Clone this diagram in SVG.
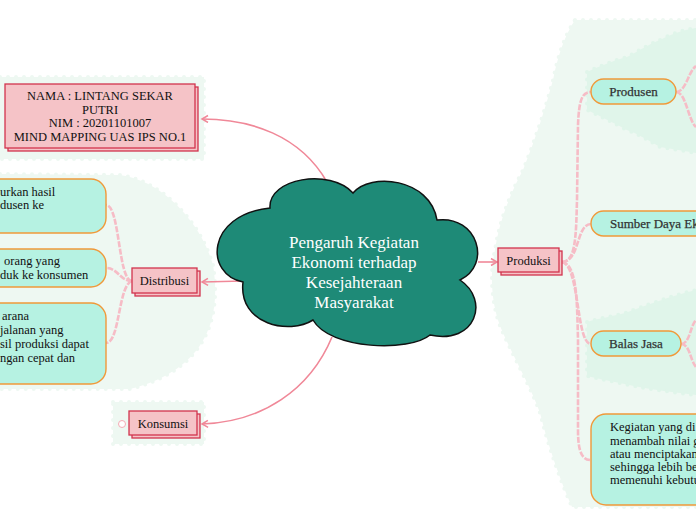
<svg xmlns="http://www.w3.org/2000/svg" width="696" height="520" viewBox="0 0 696 520">
<style>
.bg{fill:#eef8f2;stroke:#eef8f2;stroke-width:4;stroke-dasharray:0 8;stroke-linecap:round}
.bg2{fill:#e0f5ea;stroke:#e0f5ea;stroke-width:4;stroke-dasharray:0 8;stroke-linecap:round}
.box{fill:#f5c3c7;stroke:#d2344e;stroke-width:1.3}
.leaf{fill:#b6f2e2;stroke:#f0993a;stroke-width:1.4}
.t{font-family:"Liberation Serif","Times New Roman",serif;font-size:12.5px;fill:#111}
.tc{text-anchor:middle}
.tg{font-family:"Liberation Serif","Times New Roman",serif;font-size:13px;fill:#333;text-anchor:middle;stroke:#333;stroke-width:0.25}
.main{font-family:"Liberation Serif","Times New Roman",serif;font-size:17px;fill:#ffffff;text-anchor:middle}
.arr{fill:none;stroke:#f08898;stroke-width:1.6;marker-end:url(#ah)}
.dash{fill:none;stroke:#f6bcc6;stroke-width:2.6;stroke-dasharray:6 1.5}
</style>
<defs>
<marker id="ah" markerWidth="10" markerHeight="10" refX="7" refY="4" orient="auto" markerUnits="userSpaceOnUse">
<path d="M1,0.5 L7,4 L1,7.5" fill="none" stroke="#f08898" stroke-width="1.5"/>
</marker>
</defs>

<g id="backgrounds">
<path class="bg" d="M575,20 L696,20 L696,507 L572,507 C560,480 548,445 540,413 C532,390 515,360 503,333 C490,305 490,270 495,250 C500,215 515,185 523,170 C535,140 545,110 553,80 C558,55 565,35 575,20 Z"/>
<path class="bg2" d="M587,72 C600,66 615,60 627,57 C640,50 650,44 660,40 C675,32 688,29 696,28 L696,153 C685,151 672,149 660,147 C648,140 638,134 627,130 C612,122 598,115 587,110 Z"/>
<path class="bg2" d="M587,322 C600,318 615,316 625,313 C645,306 670,296 696,290 L696,395 C670,392 640,388 620,383 C605,380 595,378 587,376 Z"/>
<path class="bg" d="M0,77 L204,77 L204,159 L0,159 Z"/>
<path class="bg" d="M0,174 L120,175 C160,180 200,220 213,265 C222,320 205,370 130,389 L0,389 Z"/>
<path class="bg" d="M113,402 L204,402 L204,444 L113,444 Z"/>
</g>

<g id="connectors">
<path class="arr" d="M327,182 C300,135 250,119 202,119"/>
<path class="arr" d="M243,281 L202,282"/>
<path class="arr" d="M332,337 C310,390 262,422 202,424"/>
<path class="arr" d="M478,262 L497,262"/>
<path class="dash" d="M132,281 C118,281 120,205 106,205"/>
<path class="dash" d="M132,281 C120,281 118,268 106,268"/>
<path class="dash" d="M132,281 C118,285 120,343 106,343"/>
<path class="dash" d="M562,262 C576,262 576,235 577,200 L578,125 C579,100 582,92 591,92"/>
<path class="dash" d="M562,262 C580,262 576,224 591,224"/>
<path class="dash" d="M562,262 C580,266 576,344 591,344"/>
<path class="dash" d="M562,262 C577,264 577,300 578,340 L578,430 C578,452 582,460 591,460"/>
<path class="dash" d="M676,92 C686,92 688,72 696,66"/>
<path class="dash" d="M676,92 C686,92 688,120 696,127"/>
<path class="dash" d="M681,344 C690,344 690,326 696,320"/>
<path class="dash" d="M681,344 C690,344 690,360 696,367"/>
</g>

<g id="center">
<path d="M243,282 C205,275 205,215 270,208 C268,178 330,168 353,193 C370,172 430,178 437,220 C478,215 492,265 460,280 C490,300 476,345 430,335 C410,352 330,350 313,320 C290,335 238,325 243,282 Z" fill="#1e8a77" stroke="#111" stroke-width="1.5"/>
<text class="main" x="354" y="248">Pengaruh Kegiatan</text>
<text class="main" x="354" y="268">Ekonomi terhadap</text>
<text class="main" x="354" y="288">Kesejahteraan</text>
<text class="main" x="354" y="308">Masyarakat</text>
</g>

<g id="nama">
<rect class="box" x="8" y="87" width="190" height="64"/>
<rect class="box" x="5" y="84" width="190" height="64"/>
<text class="t tc" x="100" y="100">NAMA : LINTANG SEKAR</text>
<text class="t tc" x="100" y="114">PUTRI</text>
<text class="t tc" x="100" y="127">NIM : 20201101007</text>
<text class="t tc" x="100" y="141">MIND MAPPING UAS IPS NO.1</text>
</g>

<g id="distribusi">
<rect class="box" x="135" y="271" width="65" height="25"/>
<rect class="box" x="132" y="268" width="65" height="25"/>
<text class="t tc" x="164.5" y="285">Distribusi</text>
</g>

<g id="konsumsi">
<circle cx="122" cy="424" r="3.5" fill="#fff" stroke="#f5aab5" stroke-width="1"/>
<rect class="box" x="132" y="414" width="68" height="24"/>
<rect class="box" x="129" y="411" width="68" height="24"/>
<text class="t tc" x="163" y="428">Konsumsi</text>
</g>

<g id="produksi">
<rect class="box" x="501" y="251" width="61" height="24"/>
<rect class="box" x="498" y="248" width="61" height="24"/>
<text class="t tc" x="528.5" y="265">Produksi</text>
</g>

<g id="dist-1">
<rect class="leaf" x="-30" y="179" width="136" height="54" rx="15"/>
<text class="t" x="0" y="196">urkan hasil</text>
<text class="t" x="0" y="209">dusen ke</text>
</g>
<g id="dist-2">
<rect class="leaf" x="-30" y="249" width="136" height="38" rx="15"/>
<text class="t" x="4" y="265">orang yang</text>
<text class="t" x="0" y="279">duk ke konsumen</text>
</g>
<g id="dist-3">
<rect class="leaf" x="-30" y="303" width="136" height="81" rx="15"/>
<text class="t" x="2" y="320">arana</text>
<text class="t" x="0" y="334">jalanan yang</text>
<text class="t" x="0" y="348">sil produksi dapat</text>
<text class="t" x="0" y="362">ngan cepat dan</text>
</g>

<g id="produsen">
<rect class="leaf" x="591" y="79" width="85" height="25" rx="12.5"/>
<text class="tg" x="633.5" y="96">Produsen</text>
</g>
<g id="sumber">
<rect class="leaf" x="591" y="211" width="150" height="25" rx="12.5"/>
<text class="tg" x="610" y="228" style="text-anchor:start">Sumber Daya Ek</text>
</g>
<g id="balas">
<rect class="leaf" x="591" y="331" width="90" height="25" rx="12.5"/>
<text class="tg" x="636" y="348">Balas Jasa</text>
</g>
<g id="kegiatan">
<rect class="leaf" x="591" y="414" width="150" height="91" rx="15"/>
<text class="t" x="610" y="431">Kegiatan yang di</text>
<text class="t" x="610" y="445">menambah nilai g</text>
<text class="t" x="610" y="458">atau menciptakan</text>
<text class="t" x="610" y="471">sehingga lebih be</text>
<text class="t" x="610" y="484">memenuhi kebutu</text>
</g>
</svg>
